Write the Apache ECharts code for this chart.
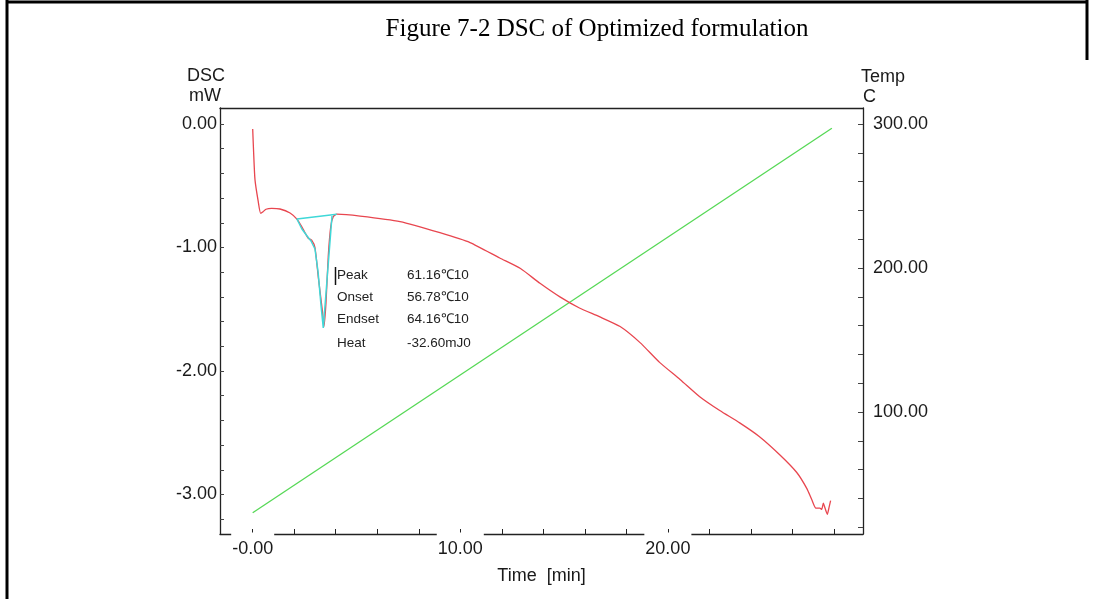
<!DOCTYPE html>
<html>
<head>
<meta charset="utf-8">
<script src="https://cdn.jsdelivr.net/npm/echarts@6/dist/echarts.min.js"></script>
<style>
html,body{margin:0;padding:0;background:#fff;}
#chart{width:1094px;height:599px;}
</style>
</head>
<body>
<div id="chart"></div>
<script>
// ---- data ----
const dscTime  = [0.00, 0.04, 0.11, 0.26, 0.385, 0.50, 0.64, 0.915, 1.315, 1.80, 2.13, 2.36, 2.52, 2.68, 2.84, 3.00, 3.16, 3.37, 3.43, 3.53, 3.64, 3.76, 3.88, 4.05, 5.17, 7.10, 9.02, 10.47, 11.90, 12.90, 13.84, 14.80, 15.74, 16.70, 17.70, 18.66, 19.60, 20.60, 21.55, 22.50, 23.46, 24.40, 25.40, 26.20, 26.69, 26.93, 27.13, 27.32, 27.41, 27.49, 27.57, 27.68, 27.77, 27.84];
const dscValue = [-0.04, -0.21, -0.45, -0.62, -0.723, -0.71, -0.69, -0.683, -0.688, -0.72, -0.77, -0.83, -0.88, -0.925, -0.94, -1.00, -1.24, -1.53, -1.64, -1.45, -1.07, -0.83, -0.75, -0.73, -0.745, -0.79, -0.88, -0.96, -1.085, -1.17, -1.29, -1.40, -1.49, -1.56, -1.64, -1.77, -1.93, -2.07, -2.21, -2.32, -2.42, -2.53, -2.68, -2.82, -2.95, -3.04, -3.11, -3.11, -3.12, -3.07, -3.11, -3.16, -3.10, -3.05];

const tempTime  = [0.00, 27.90];
const tempValue = [30.0, 297.0];

// peak baseline + integration boundary (cyan)
const baseTime  = [4.05, 2.13, 2.37, 2.62, 2.81, 3.00, 3.15, 3.29, 3.40, 3.82];
const baseValue = [-0.731, -0.769, -0.85, -0.907, -0.947, -1.012, -1.198, -1.466, -1.652, -0.745];

const xTickValues = [0, 10, 20];
const xTickLabels = ['-0.00', '10.00', '20.00'];
const xMinorTicks = [0, 2, 4, 6, 8, 10, 12, 14, 16, 18, 20, 22, 24, 26, 28];

const yTickValues = [0, -1, -2, -3];
const yTickLabels = ['0.00', '-1.00', '-2.00', '-3.00'];
const yMinorTicks = [0, -0.2, -0.4, -0.6, -0.8, -1, -1.2, -1.4, -1.6, -1.8, -2, -2.2, -2.4, -2.6, -2.8, -3, -3.2];

const tTickValues = [100, 200, 300];
const tTickLabels = ['100.00', '200.00', '300.00'];
const tMinorTicks = [20, 40, 60, 80, 100, 120, 140, 160, 180, 200, 220, 240, 260, 280, 300];

const peakNames  = ['Peak', 'Onset', 'Endset', 'Heat'];
const peakValues = ['61.16℃10', '56.78℃10', '64.16℃10', '-32.60mJ0'];

// ---- chart ----
const chart = echarts.init(document.getElementById('chart'), null, {renderer: 'canvas'});
const lblFont = {fontFamily: 'Liberation Sans, Arial, sans-serif', fontSize: 18, color: '#1a1a1a'};
const axisLine = {show: true, onZero: false, lineStyle: {color: '#222', width: 1.3}};

const zip = (a, b) => a.map((v, i) => [v, b[i]]);

const rowY = [276.5, 298.5, 320.5, 344];
const annot = [];
peakNames.forEach((n, i) => {
  annot.push({type: 'text', left: 337, top: rowY[i] - 8, z: 10,
    style: {text: n, font: '13.5px "Liberation Sans", Arial, sans-serif', fill: '#222'}});
  annot.push({type: 'text', left: 407, top: rowY[i] - 8, z: 10,
    style: {text: peakValues[i], font: '13.5px "Liberation Sans", Arial, sans-serif', fill: '#222'}});
});

chart.setOption({
  animation: false,
  backgroundColor: '#fff',
  title: {
    text: 'Figure 7-2 DSC of Optimized formulation',
    left: 592, top: 12, textAlign: 'center',
    textStyle: {fontFamily: 'Liberation Serif, Times New Roman, serif', fontSize: 25, fontWeight: 'normal', color: '#000'}
  },
  grid: {left: 220, right: 231, top: 108, bottom: 65, containLabel: false},
  xAxis: [{
    type: 'value', min: -1.575, max: 29.4, position: 'bottom',
    name: 'Time  [min]', nameLocation: 'middle', nameGap: 33,
    nameTextStyle: lblFont,
    axisLine: axisLine,
    splitLine: {show: false},
    axisTick: {show: true, inside: true, length: 5, customValues: xMinorTicks, lineStyle: {color: '#222', width: 1}},
    axisLabel: {
      customValues: xTickValues, margin: -1.5,
      formatter: v => xTickLabels[xTickValues.indexOf(v)],
      backgroundColor: '#fff', padding: [7.5, 1, 0, 1],
      ...lblFont
    }
  }, {
    type: 'value', min: -1.575, max: 29.4, position: 'top',
    axisLine: axisLine, axisTick: {show: false}, axisLabel: {show: false}, splitLine: {show: false}
  }],
  yAxis: [{
    type: 'value', min: -3.32, max: 0.13, position: 'left',
    axisLine: axisLine, splitLine: {show: false},
    axisTick: {show: true, inside: true, length: 4, customValues: yMinorTicks, lineStyle: {color: '#444', width: 1}},
    axisLabel: {
      customValues: yTickValues, margin: 3,
      formatter: v => yTickLabels[yTickValues.indexOf(v)],
      ...lblFont
    }
  }, {
    type: 'value', min: 15.3, max: 311.1, position: 'right',
    axisLine: axisLine, splitLine: {show: false},
    axisTick: {show: true, inside: true, length: 5, customValues: tMinorTicks, lineStyle: {color: '#444', width: 1}},
    axisLabel: {
      customValues: tTickValues, margin: 10,
      formatter: v => tTickLabels[tTickValues.indexOf(v)],
      ...lblFont
    }
  }],
  series: [{
    name: 'Temp', type: 'line', xAxisIndex: 0, yAxisIndex: 1,
    data: zip(tempTime, tempValue), showSymbol: false,
    lineStyle: {color: '#56d856', width: 1.3}, z: 2
  }, {
    name: 'DSC', type: 'line', xAxisIndex: 0, yAxisIndex: 0,
    data: zip(dscTime, dscValue), showSymbol: false, smooth: 0.2,
    lineStyle: {color: '#e8464f', width: 1.3}, z: 3
  }, {
    name: 'Baseline', type: 'line', xAxisIndex: 0, yAxisIndex: 0,
    data: zip(baseTime, baseValue), showSymbol: false,
    lineStyle: {color: '#3fd8d8', width: 1.5}, z: 4
  }],
  graphic: [
    {type: 'line', shape: {x1: 7, y1: 2, x2: 1087, y2: 2}, style: {stroke: '#000', lineWidth: 3}},
    {type: 'line', shape: {x1: 7, y1: 0, x2: 7, y2: 599}, style: {stroke: '#000', lineWidth: 3}},
    {type: 'line', shape: {x1: 1087, y1: 0, x2: 1087, y2: 60}, style: {stroke: '#000', lineWidth: 3}},
    {type: 'text', left: 187, top: 67, style: {text: 'DSC', font: '18px "Liberation Sans", Arial, sans-serif', fill: '#1a1a1a'}},
    {type: 'text', left: 189, top: 87, style: {text: 'mW', font: '18px "Liberation Sans", Arial, sans-serif', fill: '#1a1a1a'}},
    {type: 'text', left: 861, top: 68, style: {text: 'Temp', font: '18px "Liberation Sans", Arial, sans-serif', fill: '#1a1a1a'}},
    {type: 'text', left: 863, top: 88, style: {text: 'C', font: '18px "Liberation Sans", Arial, sans-serif', fill: '#1a1a1a'}},
    {type: 'line', shape: {x1: 335.5, y1: 267, x2: 335.5, y2: 285}, style: {stroke: '#111', lineWidth: 1.5}},
    ...annot
  ]
});
</script>
</body>
</html>
